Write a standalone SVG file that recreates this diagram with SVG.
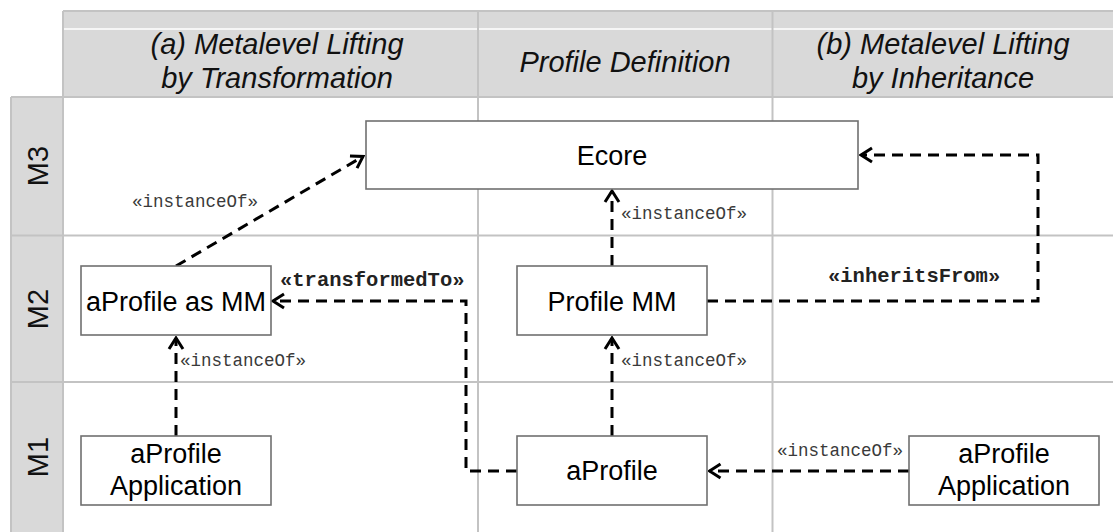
<svg xmlns="http://www.w3.org/2000/svg" width="1113" height="532" viewBox="0 0 1113 532">
  <style>
    .band { fill: #d9d9d9; }
    .grid { stroke: #c3c3c3; stroke-width: 2; fill: none; }
    .head { font-family: "Liberation Sans", Arial, sans-serif; font-style: italic; font-size: 29px; fill: #111; text-anchor: middle; }
    .level { font-family: "Liberation Sans", Arial, sans-serif; font-size: 29px; fill: #111; text-anchor: middle; }
    .box { fill: #fff; stroke: #707070; stroke-width: 1.6; }
    .label { font-family: "Liberation Sans", Arial, sans-serif; font-size: 27px; fill: #000; text-anchor: middle; }
    .dep { fill: none; stroke: #000; stroke-width: 3; stroke-dasharray: 11 7; marker-end: url(#open); }
    .stereo { font-family: "Liberation Mono", "Courier New", monospace; font-size: 17.5px; fill: #3a3a3a; }
    .stereo-b { font-family: "Liberation Mono", "Courier New", monospace; font-size: 20.5px; font-weight: bold; fill: #222; }
  </style>
  <defs>
    <marker id="open" viewBox="-14 -9 16 18" markerWidth="16" markerHeight="18" refX="0" refY="0" orient="auto" markerUnits="userSpaceOnUse">
      <path d="M-11,-7 L0,0 L-11,7" fill="none" stroke="#000" stroke-width="3" stroke-linejoin="miter"/>
    </marker>
  </defs>

  <rect width="1113" height="532" fill="#fff"/>

  <!-- column header band and level band -->
  <g id="grid">
    <rect class="band" x="63" y="11" width="1050" height="86"/>
    <line x1="64" y1="29" x2="1113" y2="29" stroke="#fff" stroke-width="1.4"/>
    <rect class="band" x="11" y="97" width="52" height="435"/>
    <path class="grid" d="M63,11 H1113 M63,11 V532 M11,97 H1113 M11,97 V532 M478,11 V532 M772.5,11 V532 M11,235.5 H1113 M11,382 H1113"/>
  </g>

  <g id="headers">
    <text class="head" x="277" y="54">(a) Metalevel Lifting</text>
    <text class="head" x="277" y="88">by Transformation</text>
    <text class="head" x="625" y="72">Profile Definition</text>
    <text class="head" x="943" y="54">(b) Metalevel Lifting</text>
    <text class="head" x="943" y="88">by Inheritance</text>
  </g>

  <g id="levels">
    <text class="level" transform="translate(48,166) rotate(-90)">M3</text>
    <text class="level" transform="translate(48,309) rotate(-90)">M2</text>
    <text class="level" transform="translate(48,457) rotate(-90)">M1</text>
  </g>

  <!-- connectors -->
  <g id="connectors">
    <path class="dep" d="M176,266 L363,156.5"/>
    <path class="dep" d="M176,436 V338"/>
    <path class="dep" d="M517,471 H466 V301 H273"/>
    <path class="dep" d="M612,266 V191"/>
    <path class="dep" d="M612,436 V338"/>
    <path class="dep" d="M707,301 H1038 V155 H861"/>
    <path class="dep" d="M909,471 H709.5"/>
    <text class="stereo" x="132" y="207">«instanceOf»</text>
    <text class="stereo" x="180" y="366">«instanceOf»</text>
    <text class="stereo" x="621" y="219">«instanceOf»</text>
    <text class="stereo" x="621" y="366">«instanceOf»</text>
    <text class="stereo" x="777" y="456">«instanceOf»</text>
    <text class="stereo-b" x="280" y="286">«transformedTo»</text>
    <text class="stereo-b" x="828" y="282">«inheritsFrom»</text>
  </g>

  <!-- nodes -->
  <g id="ecore">
    <rect class="box" x="366" y="121" width="492" height="68"/>
    <text class="label" x="612" y="165">Ecore</text>
  </g>
  <g id="aprofile-as-mm">
    <rect class="box" x="81" y="266" width="190" height="69"/>
    <text class="label" x="176" y="311">aProfile as MM</text>
  </g>
  <g id="profile-mm">
    <rect class="box" x="517" y="266" width="190" height="69"/>
    <text class="label" x="612" y="311">Profile MM</text>
  </g>
  <g id="aprofile-application-left">
    <rect class="box" x="81" y="436" width="190" height="69"/>
    <text class="label" x="176" y="463">aProfile</text>
    <text class="label" x="176" y="495">Application</text>
  </g>
  <g id="aprofile">
    <rect class="box" x="517" y="436" width="190" height="69"/>
    <text class="label" x="612" y="480">aProfile</text>
  </g>
  <g id="aprofile-application-right">
    <rect class="box" x="909" y="436" width="190" height="69"/>
    <text class="label" x="1004" y="463">aProfile</text>
    <text class="label" x="1004" y="495">Application</text>
  </g>
</svg>
